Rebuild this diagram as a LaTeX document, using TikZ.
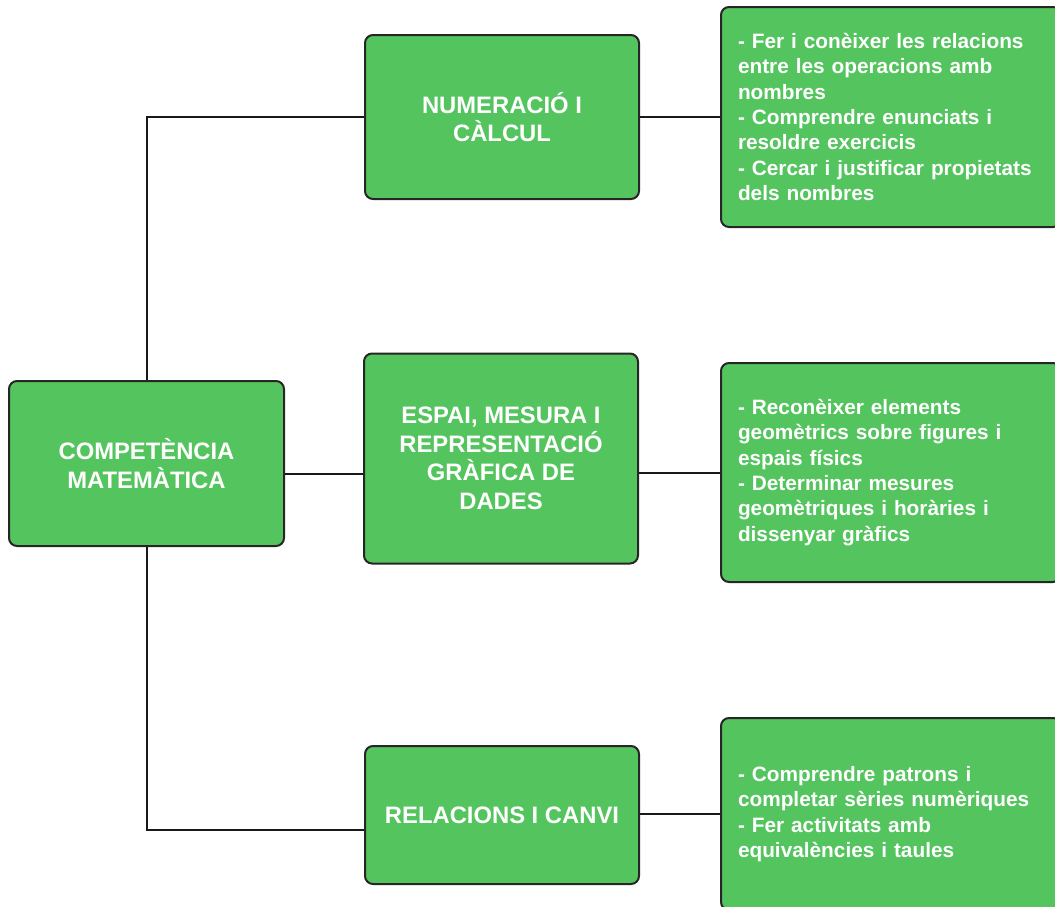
\documentclass[tikz,border=0pt]{standalone}
\usepackage{fontspec}
\setmainfont{Liberation Sans}
\usetikzlibrary{positioning}

\definecolor{boxgreen}{RGB}{84,196,94}

\tikzset{
	box/.style = {draw=black!85, line width=2pt, fill=boxgreen, rounded corners=8pt,
		text=white, font=\bfseries\fontsize{23.8}{28.5}\selectfont, align=center,
		inner sep=0pt},
	rootbox/.style = {box, minimum width=275pt, minimum height=165pt},
	catbox/.style = {box, minimum width=274pt},
	descbox/.style = {box, minimum width=340pt, text width=306pt, inner xsep=17pt,
		align=left, font=\bfseries\fontsize{20.8}{25.3}\selectfont},
	link/.style = {draw=black!90, line width=2pt}
}

\begin{document}
\begin{tikzpicture}[x=1pt,y=-1pt]

	\useasboundingbox (0,0) rectangle (1055,906);

	% left: the competence
	\node[rootbox] (comp) at (146.5,463.5) {COMPETÈNCIA\\MATEMÀTICA};

	% middle: the three blocks
	\node[catbox,minimum height=164pt] (num) at (502,117) {NUMERACIÓ I\\CÀLCUL};
	\node[catbox,minimum height=210pt] (espai) at (501,458.5) {ESPAI, MESURA I\\REPRESENTACIÓ\\GRÀFICA DE\\DADES};
	\node[catbox,minimum height=138pt] (rel) at (502,815) {RELACIONS I CANVI};

	% right: what each block asks for
	\node[descbox,minimum height=220pt] (numdesc) at (891,117) {- Fer i conèixer les relacions\\entre les operacions amb\\nombres\\- Comprendre enunciats i\\resoldre exercicis\\- Cercar i justificar propietats\\dels nombres};
	\node[descbox,minimum height=219pt] (espaidesc) at (891,472.5) {- Reconèixer elements\\geomètrics sobre figures i\\espais físics\\- Determinar mesures\\geomètriques i horàries i\\dissenyar gràfics};
	\node[descbox,minimum height=192pt] (reldesc) at (891,814) {- Comprendre patrons i\\completar sèries numèriques\\- Fer activitats amb\\equivalències i taules};

	% connectors
	\draw[link] (comp.north) |- (num.west);
	\draw[link] ([yshift=-10.5pt]comp.east) -- ([yshift=-10.5pt]comp.east -| espai.west);
	\draw[link] (comp.south) |- ([yshift=-15pt]rel.west);

	\draw[link] (num.east) -- (numdesc.west);
	\draw[link] (espai.east |- espaidesc.west) -- (espaidesc.west);
	\draw[link] (rel.east |- reldesc.west) -- (reldesc.west);

\end{tikzpicture}
\end{document}
